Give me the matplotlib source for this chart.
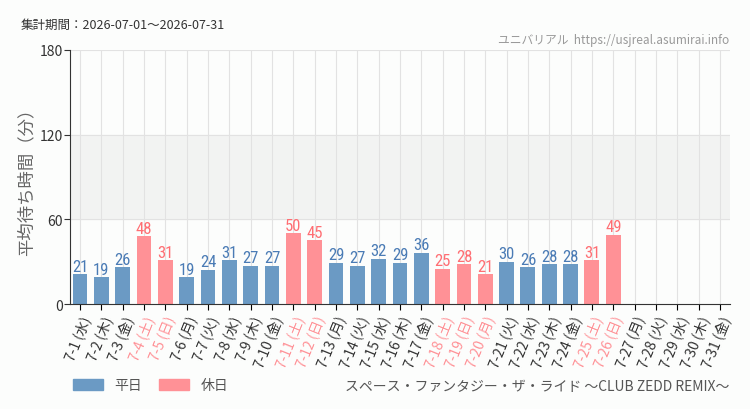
import matplotlib
matplotlib.use('Agg')
import matplotlib.pyplot as plt
from matplotlib.patches import Patch

plt.rcParams['font.family'] = ['Noto Sans CJK JP', 'DejaVu Sans']

days = [f'7-{d}' for d in range(1, 32)]
weekdays = ['水', '木', '金', '土', '日', '月', '火'] * 5
weekdays = weekdays[:31]
waits = [21, 19, 26, 48, 31, 19, 24, 31, 27, 27, 50, 45, 29, 27, 32, 29, 36,
         25, 28, 21, 30, 26, 28, 28, 31, 49, None, None, None, None, None]
holidays = ['7-4', '7-5', '7-11', '7-12', '7-18', '7-19', '7-20', '7-25', '7-26']

blue = '#6b9ac4'
pink = '#ff9196'
blue_txt = '#4a7bb5'
pink_txt = '#ff6e73'

fig = plt.figure(figsize=(7.5, 4.1), dpi=100)
fig.patch.set_facecolor('#fcfdfc')
ax = fig.add_axes([0.0933, 0.256, 0.88, 0.62])
ax.set_facecolor('#fcfdfc')

ax.axhspan(60, 120, color='#f2f3f2', zorder=0)
for i in range(len(days)):
    ax.axvline(i, color='#e2e2e2', lw=0.8, zorder=0)
for y in (60, 120, 180):
    ax.axhline(y, color='#e2e2e2', lw=0.8, zorder=0)

for i, (d, v) in enumerate(zip(days, waits)):
    if v is None:
        continue
    hol = d in holidays
    ax.bar(i, v, width=0.7, color=pink if hol else blue, zorder=2)
    ax.text(i, v + 0.5, str(v), ha='center', va='bottom', fontsize=12,
            color=pink_txt if hol else blue_txt, fontstretch='condensed',
            family=['Roboto Condensed', 'Liberation Sans Narrow', 'Liberation Sans'],
            zorder=3)

ax.set_xlim(-0.47, 30.47)
ax.set_ylim(0, 180)
ax.set_yticks([0, 60, 120, 180])
ax.set_xticks(range(len(days)))
labels = [f'{d} ({w})' for d, w in zip(days, weekdays)]
ax.set_xticklabels(labels, rotation=68, ha='right', rotation_mode='anchor',
                   fontsize=10)
for lbl, d in zip(ax.get_xticklabels(), days):
    lbl.set_color(pink if d in holidays else '#333333')
ax.tick_params(axis='y', labelsize=10, colors='#333333', length=4, pad=1)
ax.tick_params(axis='x', length=4, pad=3)
for s in ('top', 'right'):
    ax.spines[s].set_visible(False)
ax.spines['left'].set_color('#333333')
ax.spines['bottom'].set_color('#333333')
ax.set_ylabel('平均待ち時間（分）', fontsize=12.5, color='#666666')
ax.yaxis.set_label_coords(-0.052, 0.5)

fig.text(0.027, 0.93, '集計期間：2026-07-01〜2026-07-31', fontsize=9, color='#333333')
fig.text(0.973, 0.893, 'ユニバリアル  https://usjreal.asumirai.info', fontsize=8.5,
         color='#999999', ha='right', family=['Liberation Sans Narrow', 'Noto Sans CJK JP'])
fig.text(0.973, 0.047, 'スペース・ファンタジー・ザ・ライド ～CLUB ZEDD REMIX～', fontsize=10,
         color='#555555', ha='right')

handles = [Patch(color=blue, label='平日'), Patch(color=pink, label='休日')]
fig.legend(handles=handles, loc='lower left', bbox_to_anchor=(0.08, 0.01), ncol=2,
           frameon=False, fontsize=10, handlelength=2.2, handleheight=0.9,
           columnspacing=1.2, labelcolor='#555555')

fig.savefig('out.png', dpi=100, facecolor=fig.get_facecolor())
